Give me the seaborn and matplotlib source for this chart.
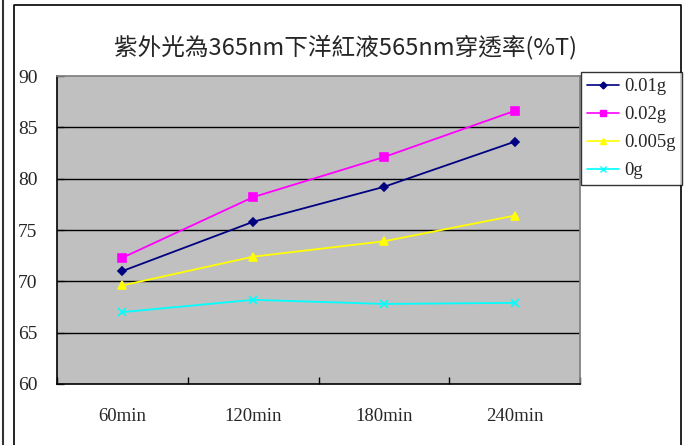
import matplotlib
matplotlib.use("Agg")
import matplotlib.pyplot as plt
import seaborn as sns
import pandas as pd
from matplotlib.lines import Line2D

times = ["60min", "120min", "180min", "240min"]
s_001 = [71.0, 75.8, 79.2, 83.6]
s_002 = [72.3, 78.2, 82.1, 86.6]
s_0005 = [69.6, 72.4, 73.9, 76.4]
s_0 = [67.0, 68.2, 67.8, 67.9]
series_names = ["0.01g", "0.02g", "0.005g", "0g"]
colors = ["#000080", "#FF00FF", "#FFFF00", "#00FFFF"]
markers = ["D", "s", "^", "x"]
msizes = [4.5, 5.5, 6, 6]
yticks = [60, 65, 70, 75, 80, 85, 90]
title = "紫外光為365nm下洋紅液565nm穿透率(%T)"

sns.set_theme(style="white")
plt.rcParams["font.family"] = ["Liberation Serif", "DejaVu Serif"]

fig = plt.figure(figsize=(6.85, 4.45), dpi=100)
ax = fig.add_axes([57/685, 1-384/445, (580-57)/685, (384-76)/445])
ax.set_facecolor("#C0C0C0")

for name, vals, c, m, ms in zip(series_names, [s_001, s_002, s_0005, s_0], colors, markers, msizes):
    d = pd.DataFrame({"pos": range(len(times)), "value": vals})
    sns.lineplot(data=d, x="pos", y="value", color=c, marker=m, ax=ax,
                 linewidth=1.3, markersize=ms, markeredgewidth=1.2,
                 markeredgecolor=c, zorder=3)

ax.set_xlim(-0.5, 3.5)
ax.set_ylim(60, 90)
ax.set_yticks(yticks)
ax.set_yticklabels([str(v) for v in yticks], fontsize=14)
ax.set_xticks([-0.5, 0.5, 1.5, 2.5, 3.5])
ax.set_xticklabels([])
ax.set_xticks(range(len(times)), minor=True)
ax.set_xticklabels(times, minor=True, fontsize=13.5)
ax.tick_params(axis="x", which="major", direction="in", length=5, width=1, color="black", bottom=True)
ax.tick_params(axis="x", which="minor", length=0, pad=17)
ax.tick_params(axis="y", which="major", direction="in", length=5, width=1, color="#404040", left=True, pad=14)

ax.grid(False)
for v in yticks[1:-1]:
    ax.axhline(v, color="black", linewidth=1.0, zorder=1)

ax.set_xlabel("")
ax.set_ylabel("")
ax.spines["left"].set_color("black")
ax.spines["bottom"].set_color("black")
ax.spines["left"].set_linewidth(1.2)
ax.spines["bottom"].set_linewidth(1.2)
ax.spines["top"].set_color("#808080")
ax.spines["right"].set_color("#808080")

fig.text(345/685, 1-47/445, title, ha="center", va="center", fontsize=17,
         family=["Noto Sans CJK TC", "DejaVu Sans"])

handles = [Line2D([0], [0], color=c, marker=m, markersize=ms - 1, linewidth=1.2,
                  markeredgecolor=c) for c, m, ms in zip(colors, markers, msizes)]
leg = fig.legend(handles, series_names, loc="upper left",
                 bbox_to_anchor=(581/685, 1-72/445), frameon=True, fancybox=False,
                 fontsize=13.5, borderaxespad=0, handlelength=1.7, handletextpad=0.3,
                 labelspacing=0.58, borderpad=0.32)
leg.get_frame().set_edgecolor("black")
leg.get_frame().set_linewidth(1.0)

# outer frames
fig.add_artist(Line2D([3/685, 3/685], [0, 1], color="#333333", linewidth=1.5, transform=fig.transFigure))
fig.add_artist(Line2D([14/685, 14/685, 681/685, 681/685], [0, 1-5/445, 1-5/445, 0],
                      color="black", linewidth=1.2, transform=fig.transFigure))

fig.savefig("out.png", dpi=100)
